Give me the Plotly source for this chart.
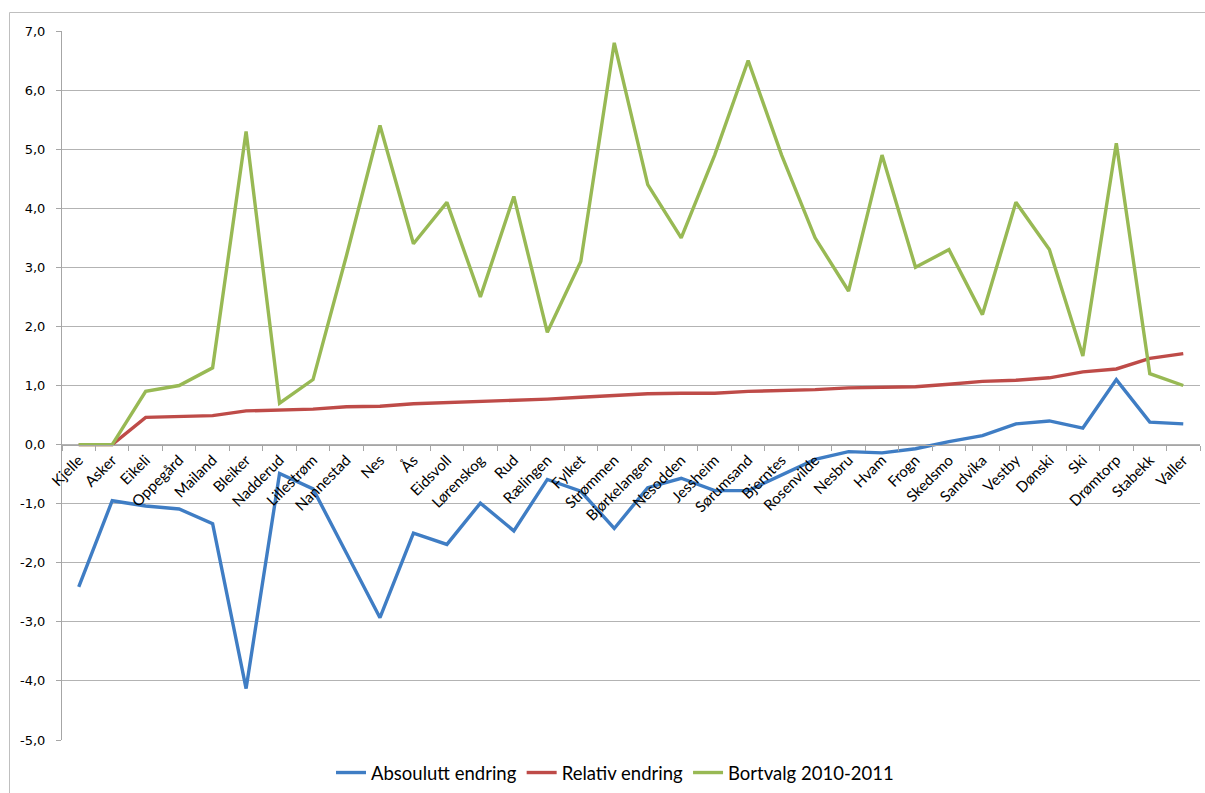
import plotly.graph_objects as go

categories = ["Kjelle", "Asker", "Eikeli", "Oppegård", "Mailand", "Bleiker", "Nadderud",
              "Lillestrøm", "Nannestad", "Nes", "Ås", "Eidsvoll", "Lørenskog", "Rud",
              "Rælingen", "Fylket", "Strømmen", "Bjørkelangen", "Nesodden", "Jessheim",
              "Sørumsand", "Bjerntes", "Rosenvilde", "Nesbru", "Hvam", "Frogn", "Skedsmo",
              "Sandvika", "Vestby", "Dønski", "Ski", "Drømtorp", "Stabekk", "Valler"]

absolutt = [-2.41, -0.95, -1.04, -1.09, -1.34, -4.13, -0.49, -0.75, -1.84, -2.93, -1.50,
            -1.69, -0.99, -1.46, -0.59, -0.79, -1.42, -0.73, -0.57, -0.78, -0.78, -0.52,
            -0.25, -0.12, -0.14, -0.07, 0.05, 0.15, 0.35, 0.40, 0.28, 1.10, 0.38, 0.35]

relativ = [0.0, 0.0, 0.46, 0.48, 0.49, 0.57, 0.59, 0.60, 0.64, 0.65, 0.69, 0.71, 0.72,
           0.74, 0.77, 0.80, 0.83, 0.86, 0.87, 0.87, 0.90, 0.91, 0.93, 0.96, 0.97, 0.98,
           1.02, 1.07, 1.09, 1.13, 1.23, 1.28, 1.46, 1.54]

bortvalg = [0.0, 0.0, 0.9, 1.0, 1.3, 5.3, 0.7, 1.1, 3.2, 5.4, 3.4, 4.1, 2.5, 4.2, 1.9,
            3.1, 6.8, 4.4, 3.5, 4.9, 6.5, 4.9, 3.5, 2.6, 4.9, 3.0, 3.3, 2.2, 4.1, 3.3,
            1.5, 5.1, 1.2, 1.0]

series_names = ["Absoulutt endring", "Relativ endring", "Bortvalg 2010-2011"]
series_colors = ["#3F7DC4", "#BE4B48", "#98B954"]

y_tickvals = [7, 6, 5, 4, 3, 2, 1, 0, -1, -2, -3, -4, -5]
y_ticktext = ["7,0", "6,0", "5,0", "4,0", "3,0", "2,0", "1,0", "0,0",
              "-1,0", "-2,0", "-3,0", "-4,0", "-5,0"]

fig = go.Figure()
for name, vals, col in zip(series_names, [absolutt, relativ, bortvalg], series_colors):
    fig.add_trace(go.Scatter(x=categories, y=vals, mode="lines", name=name,
                             line=dict(color=col, width=3.4)))

L, R, T, B = 62, 5, 31, 53
W, H = 1205, 793
pw = W - L - R
ph = H - T - B

def px_x(px):
    return (px - L) / pw

def px_y(py):
    return (H - B - py) / ph

fig.update_layout(
    width=W, height=H,
    margin=dict(l=L, r=R, t=T, b=B, pad=0, autoexpand=False),
    paper_bgcolor="white", plot_bgcolor="white",
    font=dict(family="Lato, Open Sans, sans-serif", size=15, color="black"),
    showlegend=True,
    legend=dict(orientation="h", x=px_x(615), xanchor="center", y=px_y(773), yanchor="middle",
                font=dict(family="Lato, Open Sans, sans-serif", size=18.5),
                itemwidth=30, tracegroupgap=0, bgcolor="rgba(0,0,0,0)"),
    xaxis=dict(type="category", range=[-0.5, len(categories) - 0.5],
               anchor="free", position=5 / 12,
               showline=True, linecolor="#A6A6A6", linewidth=1,
               ticks="outside", ticklen=5, tickcolor="#A6A6A6", tickson="boundaries",
               tickangle=-45, showgrid=False, zeroline=False,
               tickfont=dict(family="Lato, Open Sans, sans-serif", size=15)),
    yaxis=dict(range=[-5, 7], tickvals=y_tickvals, ticktext=y_ticktext,
               showline=True, linecolor="#A6A6A6", linewidth=1,
               ticks="outside", ticklen=5, tickcolor="#A6A6A6",
               showgrid=True, gridcolor="#B3B3B3", gridwidth=1,
               zeroline=False, ticklabelstandoff=8,
               tickfont=dict(family="DejaVu Sans", size=13, color="black")),
)

fig.add_shape(type="rect", xref="paper", yref="paper",
              x0=px_x(9.5), x1=px_x(1215), y0=px_y(805), y1=px_y(12.5),
              line=dict(color="#BFBFBF", width=1), fillcolor="rgba(0,0,0,0)", layer="below")

fig.write_html("out.html")
